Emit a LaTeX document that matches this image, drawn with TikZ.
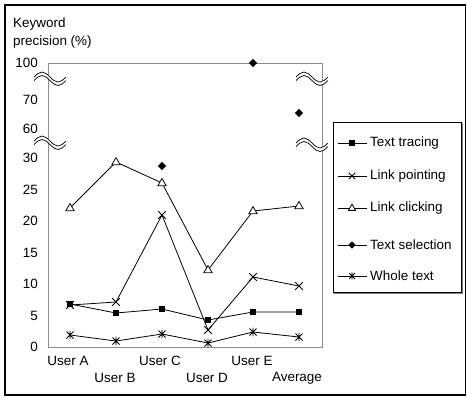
\documentclass[tikz,border=0pt]{standalone}
\usepackage{fontspec}
\setmainfont{Liberation Sans}
\begin{document}
\begin{tikzpicture}[x=1bp,y=-1bp,
  every node/.style={font=\fontsize{13.5}{15}\selectfont, inner sep=0pt},
  axisline/.style={draw=black!45, line width=0.9bp},
  dataline/.style={draw=black, line width=0.8bp},
  sq/.pic={\fill (-3.2,-3.2) rectangle (3.2,3.2);},
  xm/.pic={\draw[line width=0.8bp] (-3.8,-3.8) -- (3.8,3.8) (-3.8,3.8) -- (3.8,-3.8);},
  tri/.pic={\filldraw[fill=white, line width=0.8bp] (0,-4.5) -- (4.2,2.8) -- (-4.2,2.8) -- cycle;},
  dia/.pic={\fill (0,-4.2) -- (4.2,0) -- (0,4.2) -- (-4.2,0) -- cycle;},
  ast/.pic={\draw[line width=0.8bp] (-3.5,-3.5) -- (3.5,3.5) (-3.5,3.5) -- (3.5,-3.5) (0,-4.3) -- (0,4.3);},
  brk/.pic={
    \draw[white, line width=3.6bp] (-16,1.75) sin (-8,-3.25) cos (0,1.75) sin (8,6.75) cos (16,1.75);
    \draw[line width=0.7bp] (-16,0) sin (-8,-5) cos (0,0) sin (8,5) cos (16,0);
    \draw[line width=0.7bp] (-16,3.5) sin (-8,-1.5) cos (0,3.5) sin (8,8.5) cos (16,3.5);
  }]
\useasboundingbox (0,0) rectangle (467,399);
\fill[white] (0,0) rectangle (467,399);
% outer frame
\draw[line width=1.3bp] (5,5) rectangle (465.5,395);
% plot area
\draw[axisline] (48,63) rectangle (322,347);
% axis title
\node[anchor=west] (yt1) at (13,24) {Keyword};
\node[anchor=west] (yt2) at (13,42) {precision (\%)};
% y tick labels
\foreach \v/\y in {100/63,70/100,60/129,30/158,25/190,20/221,15/253,10/284,5/316,0/347}
  \node[anchor=east] (y\v) at (38,\y) {\v};
% x labels
\node (xA) at (68,361) {User A};
\node (xB) at (115,378) {User B};
\node (xC) at (160,361) {User C};
\node (xD) at (207,378) {User D};
\node (xE) at (252,361) {User E};
\node (xF) at (297,378) {Average};
% breaks
\pic at (50,77) {brk};
\pic at (50,141) {brk};
\pic at (312,77) {brk};
\pic at (312,143) {brk};
% data coordinates
\coordinate (tA) at (70,304); \coordinate (tB) at (116,313); \coordinate (tC) at (162,309);
\coordinate (tD) at (208,320); \coordinate (tE) at (253,312); \coordinate (tF) at (299,312);
\coordinate (pA) at (70,305); \coordinate (pB) at (116,302); \coordinate (pC) at (162,215);
\coordinate (pD) at (208,330); \coordinate (pE) at (253,277); \coordinate (pF) at (299,286);
\coordinate (cA) at (70,208); \coordinate (cB) at (116,162); \coordinate (cC) at (162,183);
\coordinate (cD) at (208,270); \coordinate (cE) at (253,211); \coordinate (cF) at (299,206);
\coordinate (sC) at (162,166); \coordinate (sE) at (253,63); \coordinate (sF) at (299,113);
\coordinate (wA) at (70,335); \coordinate (wB) at (116,341); \coordinate (wC) at (162,334);
\coordinate (wD) at (208,343); \coordinate (wE) at (253,332); \coordinate (wF) at (299,337);
% lines
\draw[dataline] (tA) -- (tB) -- (tC) -- (tD) -- (tE) -- (tF);
\draw[dataline] (pA) -- (pB) -- (pC) -- (pD) -- (pE) -- (pF);
\draw[dataline] (cA) -- (cB) -- (cC) -- (cD) -- (cE) -- (cF);
\draw[dataline] (wA) -- (wB) -- (wC) -- (wD) -- (wE) -- (wF);
% markers
\foreach \n in {A,B,C,D,E,F} {
  \pic at (t\n) {sq};
  \pic at (p\n) {xm};
  \pic at (c\n) {tri};
  \pic at (w\n) {ast};
}
\foreach \n in {C,E,F} \pic at (s\n) {dia};
% legend
\draw[black!50, line width=1.2bp] (335,124) rectangle (462,293.5);
\filldraw[fill=white, draw=black, line width=0.8bp] (333,122) rectangle (461,292);
\foreach \k/\y/\m/\t in {1/143/sq/Text tracing,2/176/xm/Link pointing,3/208/tri/Link clicking,4/245/dia/Text selection,5/276/ast/Whole text} {
  \coordinate (la\k) at (338,\y);
  \coordinate (lb\k) at (367,\y);
  \draw[dataline] (la\k) -- (lb\k);
  \pic[scale=0.85] at (352,\y) {\m};
  \node[anchor=west] (lt\k) at (370,\y) {\t};
}
\end{tikzpicture}
\end{document}
